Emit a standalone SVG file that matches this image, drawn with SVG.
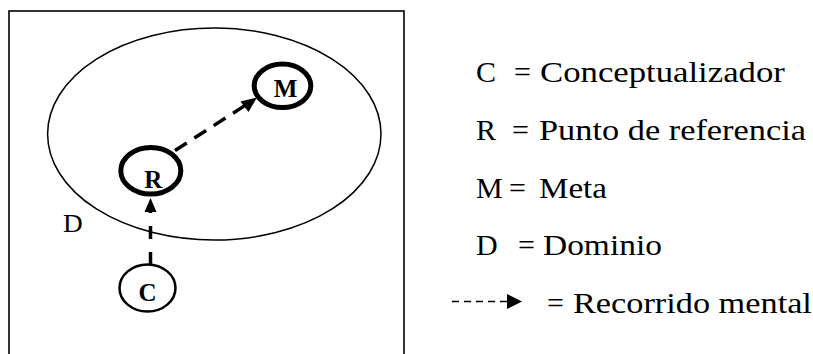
<svg xmlns="http://www.w3.org/2000/svg" width="813" height="354" viewBox="0 0 813 354">
  <style>
    .frame { fill: none; stroke: #000; stroke-width: 1.6; }
    .dom { fill: none; stroke: #000; stroke-width: 1.5; }
    .node-thick { fill: #fff; stroke: #000; stroke-width: 5; }
    .node-thin { fill: #fff; stroke: #000; stroke-width: 2.5; }
    text { font-family: "Liberation Serif", "Times New Roman", serif; fill: #000; }
    .lbl { font-weight: bold; font-size: 25px; text-anchor: middle; }
    .leg { font-size: 30px; }
    .conn { fill: none; stroke: #000; stroke-width: 3.5; }
    .head { fill: #000; stroke: none; }
  </style>
  <rect width="813" height="354" fill="#fff"/>
  <rect class="frame" x="9" y="11" width="395" height="360"/>

  <g id="dominio">
    <ellipse class="dom" cx="214.3" cy="134" rx="166.7" ry="106"/>
    <text x="63" y="232" font-size="26" transform="translate(63,232) scale(1.05,1) translate(-63,-232)">D</text>
  </g>

  <g id="connectors">
    <line class="conn" x1="150.5" y1="265" x2="150.5" y2="212" stroke-dasharray="13 13"/>
    <polygon class="head" points="150.5,198 144.5,212 156.5,212"/>
    <line class="conn" x1="175" y1="150.5" x2="245" y2="105.5" stroke-dasharray="14 9"/>
    <polygon class="head" points="257,97.5 240.5,101.5 248.5,112"/>
  </g>

  <g id="node-M">
    <ellipse class="node-thick" cx="282.5" cy="85.8" rx="28.3" ry="21.7"/>
    <text class="lbl" x="285.5" y="96.5">M</text>
  </g>
  <g id="node-R">
    <ellipse class="node-thick" cx="150.8" cy="170.8" rx="30" ry="23.3"/>
    <text class="lbl" x="153.4" y="188">R</text>
  </g>
  <g id="node-C">
    <ellipse class="node-thin" cx="147.5" cy="288" rx="28" ry="23.5"/>
    <text class="lbl" x="147.5" y="300.5">C</text>
  </g>

  <g id="legend">
    <text class="leg" x="476" y="82">C</text>
    <text class="leg" x="514" y="82">=</text>
    <text class="leg" transform="translate(540,82) scale(1.158,1)">Conceptualizador</text>

    <text class="leg" x="476" y="140">R</text>
    <text class="leg" x="512" y="140">=</text>
    <text class="leg" transform="translate(539,140) scale(1.145,1)">Punto de referencia</text>

    <text class="leg" x="476" y="198">M</text>
    <text class="leg" x="509" y="198">=</text>
    <text class="leg" transform="translate(539,198) scale(1.103,1)">Meta</text>

    <text class="leg" x="476" y="255">D</text>
    <text class="leg" x="518" y="255">=</text>
    <text class="leg" transform="translate(543,255) scale(1.115,1)">Dominio</text>

    <line x1="452" y1="301.5" x2="507" y2="301.5" stroke="#000" stroke-width="1.4" stroke-dasharray="7 5"/>
    <polygon class="head" points="522,301.5 507,294 507,309"/>
    <text class="leg" x="547" y="313">=</text>
    <text class="leg" transform="translate(573,313) scale(1.143,1)">Recorrido mental</text>
  </g>
</svg>
